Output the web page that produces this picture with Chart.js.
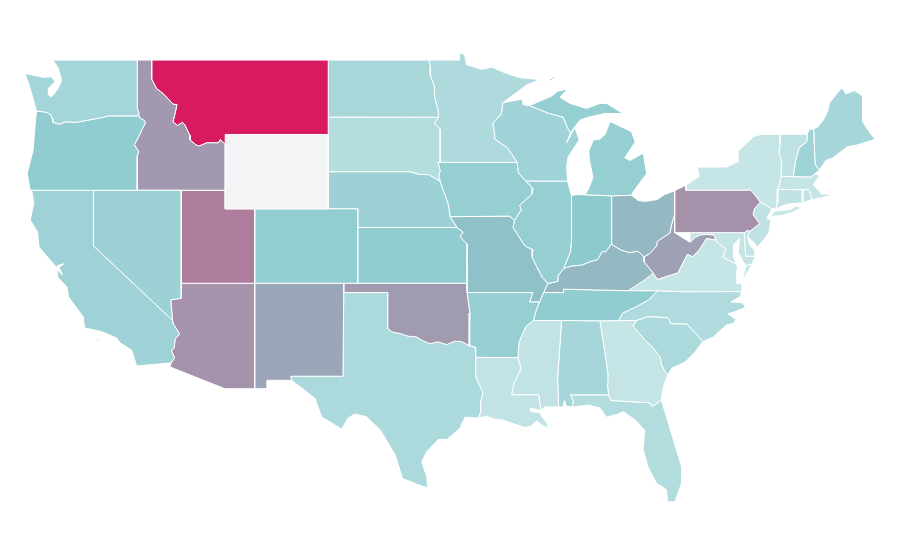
<!DOCTYPE html>
<html>
<head>
<meta charset="utf-8">
<title>US states</title>
<script src="https://cdn.jsdelivr.net/npm/chart.js@4"></script>
<style>
  html, body { margin: 0; background: #fff; }
  canvas { display: block; }
</style>
</head>
<body>
<canvas id="map" width="900" height="560"></canvas>
<script>
const rev = a => [...a].reverse();

// shared borders, [lon, lat]
const waOr = [[-123.87,46.25],[-123.4,46.22],[-123.15,46.18],[-122.9,46.05],[-122.8,45.85],[-122.75,45.65],[-122.3,45.55],[-121.9,45.68],[-121.2,45.65],[-120.65,45.73],[-119.95,45.83],[-119.3,45.93],[-119,46],[-116.92,46]];
const orId = [[-116.92,46],[-116.78,45.85],[-116.55,45.75],[-116.46,45.62],[-116.67,45.33],[-116.85,45],[-117.22,44.45],[-117.05,44.23],[-116.93,44.1],[-117.03,43.83],[-117.03,42]];
const idMt = [[-116.05,49],[-116.05,47.98],[-115.7,47.45],[-115.35,47.25],[-114.93,46.92],[-114.6,46.63],[-114.33,46.6],[-114.45,46.15],[-114.6,45.68],[-114.3,45.48],[-113.95,45.65],[-113.8,45.52],[-113.45,44.95],[-113.45,44.7],[-113.05,44.45],[-112.85,44.37],[-112.3,44.55],[-111.5,44.55],[-111.4,44.72],[-111.05,44.47]];
const redRiverN = [[-97.23,49],[-97.1,48.6],[-97.13,48.2],[-96.85,47.6],[-96.83,47],[-96.6,46.35],[-96.56,45.93]];
const sdMn = [[-96.56,45.93],[-96.85,45.6],[-96.45,45.3],[-96.45,43.5]];
const sdIa = [[-96.45,43.5],[-96.6,43.5],[-96.45,43.05],[-96.55,42.75],[-96.45,42.49]];
const neSd = [[-104.05,43],[-98.5,43],[-97.85,42.85],[-97.25,42.85],[-96.7,42.6],[-96.45,42.49]];
const neIa = [[-96.45,42.49],[-96.3,42.1],[-96.1,41.7],[-95.92,41.3],[-95.85,41],[-95.77,40.58]];
const ksMo = [[-95.31,40],[-94.9,39.75],[-95.1,39.5],[-94.61,39.1],[-94.62,37]];
const okAr = [[-94.62,36.5],[-94.43,35.4],[-94.48,33.64]];
const redRiverS = [[-94.48,33.64],[-95,33.87],[-95.5,33.88],[-96,33.7],[-96.6,33.85],[-97.15,33.75],[-97.6,33.9],[-98.1,34.13],[-98.6,34.15],[-99.2,34.3],[-99.7,34.38],[-100,34.56],[-100,36.5],[-103,36.5]];
const arkMiss = [[-89.7,36],[-89.95,35.5],[-90.1,35],[-90.6,34.7],[-90.9,34.2],[-91.1,33.8],[-91.17,33]];
const laMs = [[-91.17,33],[-90.95,32.4],[-91.45,31.6],[-91.6,31],[-89.75,31],[-89.6,30.18]];
const txLa = [[-94.04,33.55],[-94.04,31.99],[-93.8,31.55],[-93.55,31.15],[-93.7,30.6],[-93.7,30.1],[-93.85,29.75]];
const moIl = [[-91.4,40.38],[-91.5,40],[-91.1,39.5],[-90.7,39],[-90.15,38.8],[-90.2,38.4],[-89.9,37.9],[-89.5,37.3],[-89.13,36.98]];
const iaIl = [[-90.65,42.5],[-90.15,42.1],[-90.2,41.8],[-91.05,41.2],[-90.95,40.95],[-91.4,40.38]];
const iaWi = [[-91.22,43.5],[-91.15,42.95],[-90.65,42.5]];
const mnWi = [[-92.2,46.7],[-92.29,46.1],[-92.88,45.6],[-92.75,45],[-92.75,44.75],[-91.9,44.3],[-91.22,43.5]];
const ilIn = [[-87.53,41.72],[-87.53,39.35],[-87.6,38.7],[-87.95,38],[-88.05,37.8]];
const ilKy = [[-88.05,37.8],[-88.45,37.4],[-88.5,37.1],[-89.13,36.98]];
const inKy = [[-84.82,39.1],[-85.2,38.7],[-85.45,38.7],[-85.75,38.27],[-86.3,38.15],[-86.8,37.98],[-87.5,37.93],[-88.05,37.8]];
const ohKy = [[-82.6,38.42],[-83,38.72],[-83.6,38.65],[-84.2,38.8],[-84.82,39.1]];
const ohWv = [[-80.52,40.64],[-80.65,40.4],[-80.85,39.7],[-81.7,39.25],[-81.75,39],[-82.2,38.6],[-82.6,38.42]];
const kyWv = [[-82.6,38.42],[-82.6,38.15],[-81.97,37.54]];
const kyVa = [[-81.97,37.54],[-82.7,37.1],[-83.68,36.6]];
const kyTn = [[-83.68,36.6],[-86.5,36.65],[-88.07,36.68],[-88.07,36.5],[-89.42,36.5]];
const vaWv = [[-81.97,37.54],[-81.7,37.2],[-81.3,37.3],[-80.3,37.55],[-79.65,38.55],[-79.3,38.42],[-78.85,38.78],[-78.35,39.4],[-77.72,39.32]];
const mdWv = [[-77.72,39.32],[-77.85,39.6],[-78.4,39.62],[-78.75,39.6],[-79.1,39.47],[-79.48,39.2],[-79.48,39.72]];
const mdVa = [[-76.35,38.05],[-76.9,38.25],[-77.25,38.4],[-77.05,38.85],[-77.5,39.1],[-77.72,39.32]];
const tnNc = [[-84.32,34.99],[-84.05,35.4],[-83.1,35.75],[-82.3,36.1],[-81.68,36.59]];
const ncSc = [[-83.1,35],[-82.35,35.2],[-81.05,35.15],[-80.93,35.1],[-80.8,34.82],[-79.67,34.8],[-78.6,33.87]];
const gaSc = [[-83.1,35],[-83.35,34.7],[-82.6,34],[-81.95,33.5],[-81.5,33],[-81.4,32.6],[-81.15,32.2],[-80.97,32.1]];
const gaFl = [[-81.42,30.72],[-82.05,30.37],[-82.2,30.57],[-84.86,30.7],[-85,31]];
const alGa = [[-85.6,34.98],[-85.18,32.87],[-85.05,32.1],[-85.1,31.6],[-85,31]];
const alMs = [[-88.2,35],[-88.47,31.9],[-88.4,30.35]];
const paNj = [[-74.7,41.36],[-75.1,41],[-75.2,40.7],[-74.75,40.2],[-75.4,39.8]];
const nyPa = [[-75.35,42],[-75.07,41.75],[-74.7,41.36]];
const nyNe = [[-73.35,45.01],[-73.35,44.5],[-73.43,44],[-73.25,43.6],[-73.27,42.75]];
const nyMaCt = [[-73.27,42.75],[-73.5,42.05],[-73.55,41.3],[-73.65,41]];
const vtNh = [[-71.5,45.01],[-71.55,44.6],[-72.05,44.3],[-72.3,43.6],[-72.46,42.73]];

const stateNames = ['Washington','Oregon','California','Nevada','Idaho','Montana','Wyoming','Utah','Arizona','Colorado','New Mexico','North Dakota','South Dakota','Nebraska','Kansas','Oklahoma','Texas','Minnesota','Iowa','Missouri','Arkansas','Louisiana','Wisconsin','Illinois','Michigan','Indiana','Ohio','Kentucky','Tennessee','Mississippi','Alabama','Georgia','Florida','South Carolina','North Carolina','Virginia','West Virginia','Pennsylvania','New York','New Jersey','Delaware','Maryland','Connecticut','Rhode Island','Massachusetts','Vermont','New Hampshire','Maine'];
const stateValues = [18,28,21,22,50,100,null,61,52,27,44,16,10,22,28,49,14,13,25,34,25,3,20,25,25,30,37,37,28,3,17,2,11,14,12,1,47,53,1,4,2,2,4,4,2,5,20,17];

const stateShapes = [
  // Washington
  [[[-117.03,49],[-122.75,49],[-122.39,48.55],[-122.16,47.92],[-122.39,47.48],[-122.84,47.03],[-123.07,47.12],[-123.07,47.48],[-122.62,47.83],[-122.84,48.1],[-123.41,48.07],[-124.65,48.28],[-124.3,47.48],...waOr,[-116.92,46.17],[-117.04,46.42]]],
  // Oregon
  [[...waOr,...orId.slice(1),[-124.3,42],[-124.5,42.9],[-124.1,44.16],[-124,45.2]]],
  // California
  [[[-124.2,42],[-120,42],[-120,39],[-114.63,35],[-114.57,34.8],[-114.15,34.27],[-114.45,34],[-114.53,33.5],[-114.72,33.4],[-114.5,33],[-114.72,32.72],[-117.07,32.55],[-117.4,33.4],[-118.2,33.8],[-118.42,34.05],[-119.45,34.4],[-120.6,34.6],[-120.7,35.2],[-121.7,36.27],[-121.8,36.8],[-122.4,37.3],[-122.5,37.75],[-122.1,37.45],[-122.35,37.85],[-122,38.05],[-122.45,37.95],[-122.5,37.85],[-122.95,38.25],[-123.7,38.95],[-123.8,39.75],[-124.3,40.4],[-124.05,41.3]],
   [[-120,33.98],[-119.55,34.05],[-119.6,33.95]]],
  // Nevada
  [[[-120,42],[-114.04,42],[-114.04,36.2],[-114.75,36.1],[-114.63,35],[-120,39]]],
  // Idaho
  [[[-117.03,49],...idMt,[-111.05,42],[-117.03,42],...rev(orId),[-116.92,46.17],[-117.04,46.42]]],
  // Montana
  [[...idMt,[-111.05,45],[-104.05,45],[-104.05,49]]],
  // Wyoming
  [[[-111.05,45],[-104.05,45],[-104.05,41],[-111.05,41]]],
  // Utah
  [[[-114.04,42],[-111.05,42],[-111.05,41],[-109.05,41],[-109.05,37],[-114.04,37]]],
  // Arizona
  [[[-114.04,37],[-109.05,37],[-109.05,31.33],[-111.07,31.33],[-114.8,32.5],[-114.72,32.72],[-114.5,33],[-114.72,33.4],[-114.53,33.5],[-114.45,34],[-114.15,34.27],[-114.57,34.8],[-114.63,35],[-114.75,36.1],[-114.04,36.2]]],
  // Colorado
  [[[-109.05,41],[-102.05,41],[-102.05,37],[-109.05,37]]],
  // New Mexico
  [[[-109.05,37],[-103,37],[-103,36.5],[-103.05,32],[-106.6,32],[-106.53,31.78],[-108.2,31.78],[-108.2,31.33],[-109.05,31.33]]],
  // North Dakota
  [[[-104.05,49],...redRiverN,[-104.05,45.94]]],
  // South Dakota
  [[[-104.05,45.94],...sdMn,...sdIa.slice(1),...rev(neSd).slice(1)]],
  // Nebraska
  [[...neSd,...neIa.slice(1),[-95.31,40],[-102.05,40],[-102.05,41],[-104.05,41]]],
  // Kansas
  [[[-102.05,40],...ksMo,[-102.04,37]]],
  // Oklahoma
  [[[-103,37],[-94.62,37],...okAr,...redRiverS.slice(1)]],
  // Texas
  [[...rev(redRiverS),...txLa,[-94.75,29.8],[-94.95,29.5],[-95.1,29.2],[-96,28.6],[-96.58,28.6],[-97.36,27.94],[-97.7,27.4],[-97.36,26.6],[-97.3,26],[-98.05,26.2],[-99,26.5],[-99.5,27.76],[-100.5,29.1],[-101.45,29.82],[-102.25,29.97],[-102.7,29.75],[-103.15,29.16],[-104.5,29.82],[-104.95,30.8],[-106.53,31.78],[-106.6,32],[-103.05,32]]],
  // Minnesota
  [[...redRiverN,...sdMn.slice(1),...rev(mnWi),[-90.6,47.65],[-89.7,47.95],[-91,48.05],[-92,48.3],[-92.95,48.62],[-93.63,48.5],[-94.65,48.75],[-94.8,49.3],[-95.15,49.38],[-95.15,49]]],
  // Iowa
  [[[-96.45,43.5],...iaWi,...iaIl.slice(1),[-91.73,40.61],...rev(neIa),...rev(sdIa).slice(1)]],
  // Missouri
  [[[-95.77,40.58],[-91.73,40.61],...moIl,[-89.42,36.5],[-89.7,36],[-90.37,36],[-90.15,36.5],[-94.62,36.5],[-94.62,37],...rev(ksMo).slice(1)]],
  // Arkansas
  [[[-94.62,36.5],[-90.15,36.5],[-90.37,36],...arkMiss,[-94.04,33.02],[-94.04,33.55],...rev(okAr)]],
  // Louisiana
  [[[-94.04,33.02],...laMs,[-89.65,30.15],[-90.35,30.3],[-90.3,30.1],[-89.7,30.05],[-89.55,29.85],[-89.2,29.5],[-89.1,29.2],[-89.5,29.35],[-89.9,29.6],[-90.3,29.3],[-90.7,29.25],[-91.3,29.4],[-92.2,29.65],[-92.8,29.7],[-93.3,29.85],...rev(txLa)]],
  // Wisconsin
  [[[-92.2,46.7],[-90.9,46.9],[-90.8,46.6],[-90.4,46.55],[-89.1,46.14],[-88.1,45.92],[-87.8,45.35],[-87.6,45.1],[-87.85,44.55],[-87.3,45.38],[-87,44.7],[-87.75,43.8],[-87.85,43.27],[-87.8,42.49],...rev(iaWi),...rev(mnWi).slice(1)]],
  // Illinois
  [[...iaIl,...moIl.slice(1),...rev(ilKy).slice(1),...rev(ilIn).slice(1),[-87.8,42.49]]],
  // Michigan
  [[[-84.8,41.7],[-86.6,41.76],[-86.35,42.1],[-86.07,42.7],[-86.3,43.6],[-86.35,44.1],[-86.05,44.7],[-85.6,44.75],[-85.25,45],[-84.9,45.7],[-83.45,45.15],[-83.2,44.6],[-83.9,43.75],[-83.55,43.6],[-82.65,44],[-82.42,42.9],[-83.35,41.9],[-83.45,41.73]],
   [[-90.4,46.55],[-89.5,46.85],[-88.9,47.05],[-88.45,47.33],[-87.8,47.45],[-88.3,47],[-87.63,46.67],[-86.5,46.4],[-85.6,46.67],[-85.14,46.67],[-84.03,46.13],[-84.7,46.13],[-85.25,46.13],[-86.5,45.9],[-86.95,45.77],[-87.6,45.1],[-87.8,45.35],[-88.1,45.92],[-89.1,46.14]],
   [[-89.2,47.87],[-88.9,47.9],[-88.5,48.15],[-88.7,48.1]]],
  // Indiana
  [[...ilIn,...rev(inKy).slice(1),[-84.8,41.7],[-86.8,41.76],[-87.2,41.76]]],
  // Ohio
  [[[-84.8,41.7],[-83.45,41.73],[-83,41.45],[-82.5,41.4],[-81.7,41.5],[-81.2,41.77],[-80.52,41.98],...ohWv,...ohKy.slice(1)]],
  // Kentucky
  [[[-89.13,36.98],...rev(ilKy).slice(1),...rev(inKy).slice(1),...rev(ohKy).slice(1),...kyWv.slice(1),...kyVa.slice(1),...kyTn.slice(1)]],
  // Tennessee
  [[...kyTn,[-89.7,36],[-89.95,35.5],[-90.1,35],[-88.2,35],[-85.6,34.98],...tnNc]],
  // Mississippi
  [[[-90.1,35],...alMs,[-89.3,30.35],...rev(laMs),[-91.1,33.8],[-90.9,34.2],[-90.6,34.7]]],
  // Alabama
  [[...alMs,[-88.1,30.35],[-88,30.7],[-87.9,30.4],[-87.5,30.35],[-87.4,30.65],[-87.6,31],...rev(alGa)]],
  // Georgia
  [[...alGa,...rev(gaFl).slice(1),[-81.3,31.4],...rev(gaSc),[-84.32,34.99]]],
  // Florida
  [[[-87.6,31],...rev(gaFl),[-80.84,29.2],[-80.05,27.13],[-80.05,26.25],[-80.5,25.25],[-81,25.25],[-81.07,25.9],[-81.75,26.25],[-82.3,27.06],[-82.66,28.03],[-82.55,29.1],[-83.2,29.65],[-84,30.1],[-84.4,29.95],[-85.15,29.8],[-85.6,30.3],[-86.4,30.45],[-87.5,30.35],[-87.4,30.65]]],
  // South Carolina
  [[...ncSc,[-79.13,33.3],[-79.8,32.77],[-80.7,32.44],...rev(gaSc)]],
  // North Carolina
  [[...tnNc,[-80,36.54],[-75.96,36.55],[-76,36.3],[-76.7,36],[-75.9,35.95],[-75.7,35.7],[-76.5,35.45],[-76.9,35.35],[-76.35,35.05],[-76.5,34.85],[-77,34.75],[-77.5,34.4],[-77.9,34.1],...rev(ncSc)]],
  // Virginia
  [[[-83.68,36.6],[-81.68,36.59],[-80,36.54],[-75.96,36.55],[-75.95,37],[-76.3,37],[-76.3,37.6],[-76.25,37.9],...mdVa,...rev(vaWv).slice(1),...kyVa.slice(1,-1)],
   [[-75.95,37.15],[-75.6,37.55],[-75.25,38.03],[-75.65,37.95]]],
  // West Virginia
  [[[-80.52,40.64],[-80.52,39.72],...rev(mdWv).slice(1),...rev(vaWv).slice(1),...rev(kyWv).slice(1),...rev(ohWv).slice(1)]],
  // Pennsylvania
  [[[-80.52,41.98],[-79.76,42.27],[-79.76,42],...nyPa,...paNj.slice(1),[-75.6,39.84],[-75.79,39.72],[-80.52,39.72]]],
  // New York
  [[[-79.76,42.27],[-78.85,42.75],[-79,43.25],[-77,43.25],[-76.2,43.55],[-76.2,44.1],[-75.2,44.87],[-74.7,45],...nyNe,...nyMaCt.slice(1),[-73.9,41],...rev(nyPa),[-79.76,42]],
   [[-74,40.6],[-73.75,40.87],[-72.6,40.98],[-72.3,41.15],[-71.87,41.07],[-72.5,40.82],[-73.3,40.63]]],
  // New Jersey
  [[...paNj,[-75.55,39.5],[-75.15,39.2],[-74.9,38.95],[-74.4,39.4],[-74.1,39.75],[-73.98,40.4],[-74.25,40.5],[-73.9,41]]],
  // Delaware
  [[[-75.79,39.72],[-75.6,39.84],[-75.4,39.8],[-75.55,39.45],[-75.4,39.05],[-75.1,38.78],[-75.05,38.45],[-75.7,38.46]]],
  // Maryland
  [[[-79.48,39.72],[-75.79,39.72],[-75.7,38.46],[-75.05,38.45],[-75.25,38.03],[-75.65,37.95],[-75.9,38.2],[-76.2,38.7],[-76.1,39.4],[-76.5,39.1],[-76.5,38.4],...mdVa,...mdWv.slice(1,-1)]],
  // Connecticut
  [[[-73.5,42.05],[-71.8,42.02],[-71.85,41.32],[-72.9,41.25],[-73.65,41],[-73.55,41.3]]],
  // Rhode Island
  [[[-71.8,42.02],[-71.38,42.02],[-71.2,41.5],[-71.85,41.32]]],
  // Massachusetts
  [[[-73.5,42.05],[-73.27,42.75],[-72.46,42.73],[-71.3,42.7],[-71,42.87],[-70.65,42.8],[-71.1,42.3],[-70.7,41.95],[-70.55,41.8],[-70.15,41.8],[-69.95,41.72],[-70.5,41.6],[-71.2,41.5],[-71.38,42.02]]],
  // Vermont
  [[...nyNe,...rev(vtNh)]],
  // New Hampshire
  [[...vtNh,[-71.3,42.7],[-71,42.87],[-70.7,43.07],[-70.98,43.4],[-71.08,45.3],[-71.4,45.25]]],
  // Maine
  [[[-71.08,45.3],[-70.8,45.4],[-70.4,45.8],[-70.1,46.3],[-70,46.7],[-69.23,47.46],[-69.05,47.43],[-68.9,47.18],[-68.3,47.36],[-67.75,47.07],[-67.75,45.7],[-67.45,45.3],[-66.9,44.74],[-68.15,44.43],[-68.8,44.34],[-69.75,43.75],[-70.25,43.6],[-70.7,43.07],[-70.98,43.4]]],
];

const noDataColor = '#f3f4f6';
const lowColor = [200, 230, 232];
const midColor = [140, 202, 206];
const highColor = [216, 27, 96];

const mix = (a, b, t) => `rgb(${a.map((c, i) => Math.round(c + (b[i] - c) * t)).join(',')})`;
const valueColor = v => {
    if (v === null) return noDataColor;
    return v <= 30 ? mix(lowColor, midColor, v / 30) : mix(midColor, highColor, (v - 30) / 70);
};

const datasets = stateShapes.flatMap((rings, i) => rings.map(ring => ({
    label: stateNames[i],
    data: [...ring, ring[0]].map(([x, y]) => ({ x, y })),
    showLine: true,
    fill: 'shape',
    tension: 0,
    backgroundColor: valueColor(stateValues[i]),
    borderColor: '#ffffff',
    borderWidth: 1,
    pointRadius: 0,
    clip: false,
})));

new Chart(document.getElementById('map'), {
    type: 'scatter',
    data: { datasets },
    options: {
        responsive: false,
        animation: false,
        layout: { padding: 0 },
        plugins: { legend: { display: false }, tooltip: { enabled: false } },
        scales: {
            x: { display: false, min: -126.35, max: -65.21 },
            y: { display: false, min: 22.12, max: 52.23 },
        },
    },
});
</script>
</body>
</html>
